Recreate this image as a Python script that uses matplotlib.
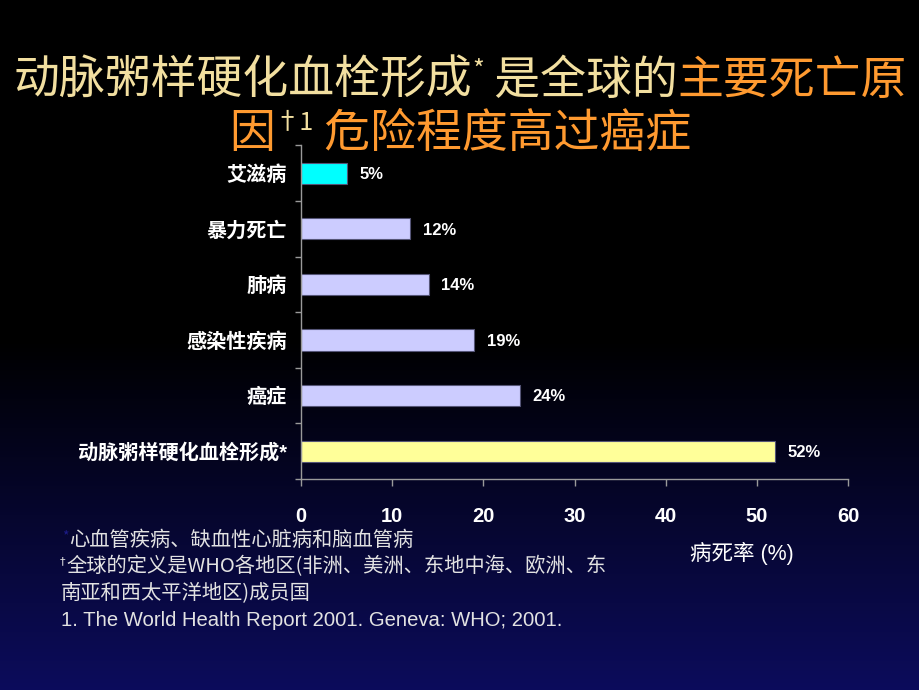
import matplotlib
matplotlib.use('Agg')
import matplotlib.pyplot as plt
import numpy as np

# Fonts: Latin first, CJK fallback
latin_cjk = ['Liberation Sans', 'Noto Sans CJK SC', 'DejaVu Sans']
cjk_first = ['Noto Sans CJK SC', 'DejaVu Sans']
plt.rcParams['font.family'] = latin_cjk
plt.rcParams['axes.unicode_minus'] = False

# --- Data ---
causes = ['艾滋病', '暴力死亡', '肺病', '感染性疾病', '癌症', '动脉粥样硬化血栓形成*']
death_rate = [5, 12, 14, 19, 24, 52]
bar_colors = ['#00FFFF', '#CCCCFF', '#CCCCFF', '#CCCCFF', '#CCCCFF', '#FFFF99']
x_ticks = [0, 10, 20, 30, 40, 50, 60]
x_label = '病死率 (%)'

beige = '#F2DFA0'
orange = '#FF9A30'
title_line1 = [('动脉粥样硬化血栓形成', beige, False),
               ('*', beige, True),
               (' 是全球的', beige, False),
               ('主要死亡原', orange, False)]
title_line2 = [('因', orange, False),
               ('†1', beige, True),
               (' 危险程度高过癌症', orange, False)]

footnotes = ['心血管疾病、缺血性心脏病和脑血管病',
             '全球的定义是WHO各地区(非洲、美洲、东地中海、欧洲、东',
             '南亚和西太平洋地区)成员国',
             '1. The World Health Report 2001. Geneva: WHO; 2001.']

fig = plt.figure(figsize=(9.2, 6.9), dpi=100)
fig.patch.set_facecolor('black')

# background: black top, fading to dark navy at the bottom
ax_bg = fig.add_axes([0, 0, 1, 1], zorder=-10)
rows = 690
t = np.clip((np.arange(rows) - 340) / (rows - 340), 0, 1)
bottom_col = np.array([12, 12, 92]) / 255.0
grad = t[:, None] * bottom_col[None, :]
ax_bg.imshow(grad[:, None, :], aspect='auto', extent=[0, 1, 0, 1], origin='upper')
ax_bg.axis('off')

# --- Bar chart ---
ax = fig.add_axes([301 / 920, 1 - 479 / 690, 547 / 920, (479 - 145.4) / 690])
ax.set_facecolor('none')
y = np.arange(len(causes))
bars = ax.barh(y, death_rate, height=0.38, color=bar_colors,
               edgecolor='#555577', linewidth=0.8)
ax.set_ylim(len(causes) - 0.5, -0.5)
ax.set_xlim(0, 60)

for b, v in zip(bars, death_rate):
    ax.annotate(f'{v}%', (b.get_width(), b.get_y() + b.get_height() / 2),
                xytext=(9, -1), textcoords='offset points', ha='left', va='center',
                color='white', fontsize=12, fontweight='bold')

axis_grey = '#9a9a9a'
for s in ['top', 'right']:
    ax.spines[s].set_visible(False)
for s in ['left', 'bottom']:
    ax.spines[s].set_color(axis_grey)
    ax.spines[s].set_linewidth(1.0)

ax.set_xticks(x_ticks)
ax.set_xticklabels([str(v) for v in x_ticks], fontsize=14.5, fontweight='bold', color='white')
ax.tick_params(axis='x', direction='out', length=5, width=1, color=axis_grey, pad=15)

ax.set_yticks(y)
ax.set_yticklabels(causes, fontsize=14.5, fontweight='bold', color='white')
ax.tick_params(axis='y', which='major', length=0, pad=10)
ax.set_yticks(np.arange(len(causes) + 1) - 0.5, minor=True)
ax.tick_params(axis='y', which='minor', direction='out', length=4, width=1, color=axis_grey)

fig.text(742 / 920, 1 - 553 / 690, x_label, ha='center', va='center',
         color='white', fontsize=15.5, family=latin_cjk)

# --- Title with mixed colours ---
renderer = fig.canvas.get_renderer()


def draw_title_line(segments, y_fig, size):
    items = []
    for text, color, sup in segments:
        sz = size * 0.55 if sup else size
        dy = 0.024 if sup else 0.0
        tx = fig.text(0, y_fig + dy, text, color=color, fontsize=sz,
                      ha='left', va='baseline', family=cjk_first, fontweight='light')
        w = tx.get_window_extent(renderer).width / fig.bbox.width
        items.append((tx, w))
    total = sum(w for _, w in items)
    x = 0.5 - total / 2
    for tx, w in items:
        tx.set_x(x)
        x += w


draw_title_line(title_line1, 1 - 94 / 690, 33)
draw_title_line(title_line2, 1 - 147 / 690, 33)

# --- Footnotes ---
note_col = '#E2E2E2'
fs = 14.6
star = fig.text(62 / 920, 1 - 536 / 690, '*', color='#1c1c8a', fontsize=10,
                va='center', family=cjk_first)
fig.text(69 / 920, 1 - 540 / 690, footnotes[0], color=note_col, fontsize=fs,
         va='center', family=cjk_first)
dag = fig.text(60 / 920, 1 - 561 / 690, '†', color=note_col, fontsize=8,
               va='center', ha='left', family=['DejaVu Sans'])
dag_w = dag.get_window_extent(renderer).width / fig.bbox.width
fig.text(60 / 920 + dag_w + 1 / 920, 1 - 566 / 690, footnotes[1], color=note_col,
         fontsize=fs, va='center', family=cjk_first)
fig.text(61 / 920, 1 - 593 / 690, footnotes[2], color=note_col, fontsize=fs,
         va='center', family=cjk_first)
fig.text(61 / 920, 1 - 620 / 690, footnotes[3], color=note_col, fontsize=fs,
         va='center', family=latin_cjk)

fig.savefig('out.png', dpi=100, facecolor=fig.get_facecolor())
